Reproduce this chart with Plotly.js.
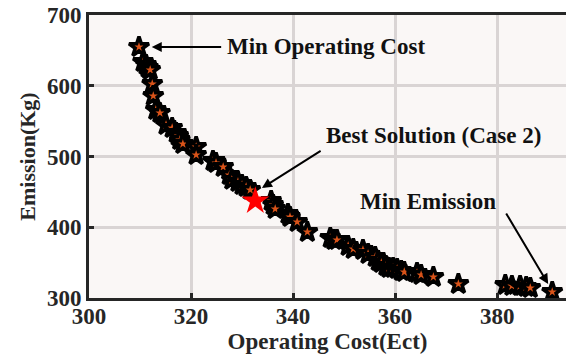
<!DOCTYPE html>
<html>
<head>
<meta charset="utf-8">
<script src="https://cdn.plot.ly/plotly-3.0.1.min.js"></script>
<style>html,body{margin:0;padding:0;background:#fff;}#chart{width:566px;height:356px;}</style>
</head>
<body>
<div id="chart"></div>
<script>
// Pareto front solutions
const operatingCost = [309.8, 310.6, 311.2, 311.6, 312.0, 312.4, 312.6, 313.1, 313.9, 315.1, 316.3, 317.1, 317.5, 317.8, 318.4, 321.0, 321.0, 324.3, 324.9, 326.3, 327.5, 328.0, 329.2, 330.0, 330.8, 331.6, 335.7, 336.1, 336.5, 339.0, 339.4, 340.8, 342.8, 347.3, 348.0, 348.6, 350.8, 351.8, 353.7, 354.7, 356.1, 356.7, 357.3, 358.2, 358.8, 359.6, 360.4, 361.2, 361.8, 364.3, 365.1, 367.5, 372.4, 381.6, 382.9, 384.5, 385.7, 386.5, 390.8];
const emission = [654.8, 633.6, 629.3, 625.1, 622.3, 602.5, 585.5, 565.7, 561.5, 544.5, 540.3, 533.2, 529.0, 523.3, 517.7, 513.4, 502.1, 493.6, 490.8, 485.2, 473.9, 466.9, 464.0, 459.7, 456.9, 452.7, 437.1, 431.4, 425.8, 418.7, 414.5, 407.4, 393.3, 384.8, 382.0, 382.0, 373.5, 369.3, 367.8, 362.2, 357.9, 352.3, 349.5, 345.2, 342.4, 342.4, 341.0, 338.2, 336.7, 335.3, 332.5, 329.7, 319.8, 318.4, 317.0, 317.0, 315.5, 314.1, 308.5];
const bestCost = [332.6];
const bestEmission = [437.1];
const xTicks = [300, 320, 340, 360, 380];
const yTicks = [300, 400, 500, 600, 700];

const font = {family: '"Liberation Serif", "Times New Roman", serif', color: '#1a1a1a'};
const annFont = {family: font.family, size: 23, color: '#111'};

const traces = [
  {
    x: operatingCost, y: emission, type: 'scatter', mode: 'markers',
    marker: {symbol: 'star', size: 15, color: '#d95319', line: {color: '#000', width: 3.5}},
    hoverinfo: 'x+y'
  },
  {
    x: bestCost, y: bestEmission, type: 'scatter', mode: 'markers',
    marker: {symbol: 'star', size: 21, color: '#ff0000', line: {width: 0}}
  }
];

const layout = {
  width: 566, height: 356,
  margin: {l: 89, r: 0, t: 15, b: 58},
  paper_bgcolor: '#ffffff',
  plot_bgcolor: '#faf7f6',
  showlegend: false,
  font: font,
  xaxis: {
    range: [300, 393.5], tickvals: xTicks, ticktext: xTicks.map(String),
    showgrid: true, gridcolor: '#d9d4d4', gridwidth: 3, zeroline: false,
    showline: true, linecolor: '#262626', linewidth: 3, mirror: true,
    ticks: 'inside', ticklen: 5, tickwidth: 3, tickcolor: '#262626',
    ticklabelstandoff: -5,
    tickfont: {family: font.family, size: 23, color: '#262626', weight: 'bold'},
    title: {text: '<b>Operating Cost(Ect)</b>', font: {family: font.family, size: 23, color: '#262626'}, standoff: 4}
  },
  yaxis: {
    range: [300, 700], tickvals: yTicks, ticktext: yTicks.map(String),
    showgrid: true, gridcolor: '#d9d4d4', gridwidth: 3, zeroline: false,
    showline: true, linecolor: '#262626', linewidth: 3, mirror: false,
    ticks: 'inside', ticklen: 5, tickwidth: 3, tickcolor: '#262626',
    tickfont: {family: font.family, size: 23, color: '#262626', weight: 'bold'},
    title: {text: '<b>Emission(Kg)</b>', font: {family: font.family, size: 22, color: '#262626'}, standoff: 6}
  },
  annotations: [
    {x: 312.3, y: 654.8, ax: 326.2, ay: 654.8, axref: 'x', ayref: 'y', xref: 'x', yref: 'y', text: '', showarrow: true, arrowhead: 2, arrowsize: 1, arrowwidth: 2, arrowcolor: '#000'},
    {x: 326.6, y: 654.8, xref: 'x', yref: 'y', xanchor: 'left', yanchor: 'middle', text: '<b>Min Operating Cost</b>', showarrow: false, font: annFont},
    {x: 333.9, y: 455.5, ax: 345.7, ay: 509.2, axref: 'x', ayref: 'y', xref: 'x', yref: 'y', text: '', showarrow: true, arrowhead: 2, arrowsize: 1, arrowwidth: 2, arrowcolor: '#000'},
    {x: 367.6, y: 529.0, xref: 'x', yref: 'y', xanchor: 'center', yanchor: 'middle', text: '<b>Best Solution (Case 2)</b>', showarrow: false, font: annFont},
    {x: 390.0, y: 319.8, ax: 381.6, ay: 421.6, axref: 'x', ayref: 'y', xref: 'x', yref: 'y', text: '', showarrow: true, arrowhead: 2, arrowsize: 1, arrowwidth: 2, arrowcolor: '#000'},
    {x: 366.5, y: 437.1, xref: 'x', yref: 'y', xanchor: 'center', yanchor: 'middle', text: '<b>Min Emission</b>', showarrow: false, font: annFont}
  ]
};

Plotly.newPlot('chart', traces, layout, {displayModeBar: false, staticPlot: true});
</script>
</body>
</html>
